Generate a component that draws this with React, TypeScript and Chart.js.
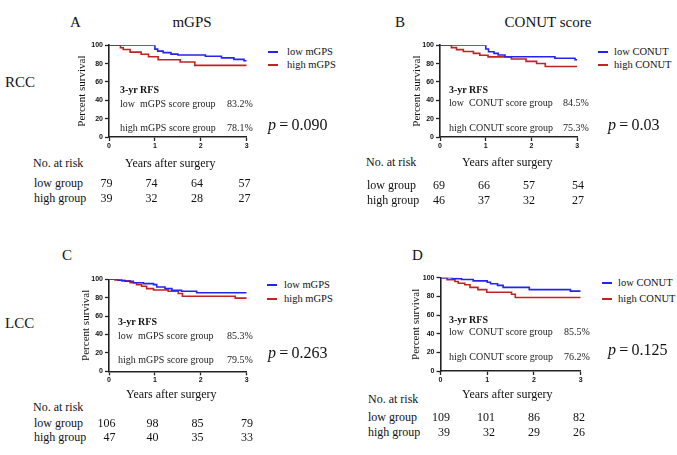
import React, { useEffect, useRef } from "react";
import { Chart, registerables } from "chart.js";

Chart.register(...registerables);

// ---------- data ----------
const yearTicks = [0, 1, 2, 3];

// Panel A (RCC, mGPS)
const aLowT = [0, 1.0, 1.06, 1.18, 1.35, 1.5, 2.1, 2.45, 2.72, 2.94, 3.0];
const aLowV = [100, 95.8, 93.6, 92.0, 90.4, 89.4, 88.1, 86.3, 84.6, 83.2, 83.2];
const aHighT = [0, 0.25, 0.31, 0.46, 0.7, 0.86, 1.07, 1.55, 1.87, 3.0];
const aHighV = [100, 97.4, 95.5, 92.6, 90.3, 87.5, 84.2, 81.8, 78.1, 78.1];

// Panel B (RCC, CONUT)
const bLowT = [0, 1.0, 1.06, 1.18, 1.27, 1.42, 2.51, 2.95, 3.0];
const bLowV = [100, 96.0, 93.0, 91.2, 89.5, 87.5, 85.8, 84.2, 84.2];
const bHighT = [0, 0.25, 0.36, 0.51, 0.73, 0.87, 1.05, 1.56, 1.88, 2.11, 2.3, 3.0];
const bHighV = [100, 97.5, 95.3, 93.2, 91.2, 89.2, 87.4, 85.0, 82.5, 80.2, 76.8, 76.8];

// Panel C (LCC, mGPS)
const cLowT = [0, 0.2, 0.35, 0.53, 0.75, 0.97, 1.04, 1.22, 1.37, 1.58, 1.91, 3.0];
const cLowV = [100, 98.9, 97.8, 96.3, 95.3, 94.2, 91.7, 89.9, 88.1, 87.0, 85.3, 85.3];
const cHighT = [0, 0.13, 0.28, 0.46, 0.6, 0.71, 0.82, 0.97, 1.29, 1.51, 1.6, 2.75, 3.0];
const cHighV = [100, 99.4, 98.3, 96.3, 94.2, 92.4, 89.9, 88.3, 87.0, 84.5, 81.5, 79.5, 79.5];

// Panel D (LCC, CONUT)
const dLowT = [0, 0.25, 0.45, 0.7, 1.0, 1.07, 1.22, 1.34, 1.9, 2.78, 3.0];
const dLowV = [100, 99.0, 98.0, 96.6, 95.2, 93.5, 91.8, 89.6, 87.2, 85.6, 85.6];
const dHighT = [0, 0.14, 0.31, 0.38, 0.52, 0.63, 0.8, 0.99, 1.52, 1.6, 3.0];
const dHighV = [100, 97.8, 95.9, 94.0, 92.4, 89.6, 87.2, 84.4, 82.2, 78.7, 78.7];

// numbers at risk
const aRiskLow = [79, 74, 64, 57];
const aRiskHigh = [39, 32, 28, 27];
const bRiskLow = [69, 66, 57, 54];
const bRiskHigh = [46, 37, 32, 27];
const cRiskLow = [106, 98, 85, 79];
const cRiskHigh = [47, 40, 35, 33];
const dRiskLow = [109, 101, 86, 82];
const dRiskHigh = [39, 32, 29, 26];

// texts
const mgpsLegend = ["low mGPS", "high mGPS"];
const conutLegend = ["low CONUT", "high CONUT"];
const mgpsGroups = ["low  mGPS score group", "high mGPS score group"];
const conutGroups = ["low  CONUT score group", "high CONUT score group"];
const aRfs = ["83.2%", "78.1%"];
const bRfs = ["84.5%", "75.3%"];
const cRfs = ["85.3%", "79.5%"];
const dRfs = ["85.5%", "76.2%"];
const pValues = ["0.090", "0.03", "0.263", "0.125"];

const BLUE = "#2323f2";
const RED = "#c22222";
const SERIF = "'Liberation Serif', 'Times New Roman', serif";
const SANS = "'Liberation Sans', Arial, sans-serif";

type Plot = { l: number; r: number; t: number; b: number };

function KMChart(props: {
  plot: Plot;
  titleX: number;
  lowT: number[];
  lowV: number[];
  highT: number[];
  highV: number[];
  labels: string[];
}) {
  const { plot, titleX, lowT, lowV, highT, highV, labels } = props;
  const ref = useRef<HTMLCanvasElement | null>(null);
  const left = Math.floor(plot.l) - 45;
  const top = Math.floor(plot.t) - 8;
  const width = Math.ceil(plot.r) + 12 - left;
  const height = Math.ceil(plot.b) + 16 - top;
  const axW = plot.l - left;
  const padT = plot.t - top;
  const padR = left + width - plot.r;
  const axH = top + height - plot.b;

  useEffect(() => {
    if (!ref.current) return;
    const tickFont = { family: SANS, size: 7, weight: "bold" as const };
    const chart = new Chart(ref.current, {
      type: "line",
      data: {
        datasets: [
          {
            label: labels[0],
            data: lowT.map((t, i) => ({ x: t, y: lowV[i] })),
            borderColor: BLUE,
            borderWidth: 1.6,
            stepped: true,
            pointRadius: 0,
            fill: false,
          },
          {
            label: labels[1],
            data: highT.map((t, i) => ({ x: t, y: highV[i] })),
            borderColor: RED,
            borderWidth: 1.6,
            stepped: true,
            pointRadius: 0,
            fill: false,
          },
        ],
      },
      options: {
        animation: false,
        responsive: false,
        events: [],
        layout: { padding: { top: padT, right: padR, left: 0, bottom: 0 } },
        plugins: { legend: { display: false }, tooltip: { enabled: false } },
        scales: {
          x: {
            type: "linear",
            min: 0,
            max: 3,
            afterBuildTicks: (s: any) => {
              s.ticks = yearTicks.map((v) => ({ value: v }));
            },
            ticks: { font: tickFont, color: "#111", padding: 1, maxRotation: 0 },
            grid: {
              display: true,
              drawOnChartArea: false,
              drawTicks: true,
              tickLength: 4,
              tickColor: "#222",
              tickWidth: 1.3,
            },
            border: { display: true, color: "#222", width: 1.6 },
            afterFit: (s: any) => {
              s.height = axH;
            },
          },
          y: {
            type: "linear",
            min: 0,
            max: 100,
            ticks: { stepSize: 20, font: tickFont, color: "#111", padding: 2 },
            grid: {
              display: true,
              drawOnChartArea: false,
              drawTicks: true,
              tickLength: 4,
              tickColor: "#222",
              tickWidth: 1.3,
            },
            border: { display: true, color: "#222", width: 1.6 },
            title: {
              display: true,
              text: "Percent survival",
              color: "#111",
              font: { family: SERIF, size: 11, lineHeight: 1.2 },
              padding: { top: titleX - left - 6.6, bottom: 0 },
            },
            afterFit: (s: any) => {
              s.width = axW;
            },
          },
        },
      },
    } as any);
    return () => chart.destroy();
  }, []);

  return (
    <canvas
      ref={ref}
      width={width}
      height={height}
      style={{ position: "absolute", left, top, width, height }}
    />
  );
}

function T(props: {
  x: number;
  y: number;
  size: number;
  children: React.ReactNode;
  align?: "left" | "center" | "right";
  bold?: boolean;
  color?: string;
}) {
  const { x, y, size, children, align = "left", bold, color = "#111" } = props;
  const tx = align === "left" ? "0" : align === "center" ? "-50%" : "-100%";
  return (
    <div
      style={{
        position: "absolute",
        left: x,
        top: y,
        transform: `translate(${tx}, -50%)`,
        fontFamily: SERIF,
        fontSize: size,
        lineHeight: 1,
        whiteSpace: "pre",
        fontWeight: bold ? "bold" : "normal",
        color,
      }}
    >
      {children}
    </div>
  );
}

type PanelCfg = {
  plot: Plot;
  titleX: number;
  letter: string;
  letterX: number;
  letterY: number;
  legend: string[];
  legLineX: number;
  legTextX: number;
  legY: number[];
  groups: string[];
  rfs: string[];
  rfsX: number;
  rfsY: number[];
  pctX: number;
  p: string;
  pX: number;
  pY: number;
  noX: number;
  noY: number;
  yearsX: number;
  yearsY: number;
  rowX: number;
  rowY: number[];
  colRights: number[];
  riskLow: number[];
  riskHigh: number[];
  lowT: number[];
  lowV: number[];
  highT: number[];
  highV: number[];
};

function Panel({ c }: { c: PanelCfg }) {
  return (
    <>
      <KMChart
        plot={c.plot}
        titleX={c.titleX}
        lowT={c.lowT}
        lowV={c.lowV}
        highT={c.highT}
        highV={c.highV}
        labels={c.legend}
      />
      <T x={c.letterX} y={c.letterY} size={15}>
        {c.letter}
      </T>
      {c.legend.map((s, i) => (
        <React.Fragment key={s}>
          <div
            style={{
              position: "absolute",
              left: c.legLineX,
              top: c.legY[i] - 0.8,
              width: 10,
              height: 1.6,
              background: i === 0 ? BLUE : RED,
            }}
          />
          <T x={c.legTextX} y={c.legY[i]} size={10.5}>
            {s}
          </T>
        </React.Fragment>
      ))}
      <T x={c.rfsX} y={c.rfsY[0]} size={10} bold>
        3-yr RFS
      </T>
      <T x={c.rfsX} y={c.rfsY[1]} size={10} color="#222">
        {c.groups[0]}
      </T>
      <T x={c.pctX} y={c.rfsY[1]} size={10} color="#222">
        {c.rfs[0]}
      </T>
      <T x={c.rfsX} y={c.rfsY[2]} size={10} color="#222">
        {c.groups[1]}
      </T>
      <T x={c.pctX} y={c.rfsY[2]} size={10} color="#222">
        {c.rfs[1]}
      </T>
      <T x={c.pX} y={c.pY} size={16}>
        <i>p</i>
        {"\u2009=\u2009" + c.p}
      </T>
      <T x={c.noX} y={c.noY} size={12}>
        No. at risk
      </T>
      <T x={c.yearsX} y={c.yearsY} size={12}>
        Years after surgery
      </T>
      <T x={c.rowX} y={c.rowY[0]} size={12}>
        low group
      </T>
      <T x={c.rowX} y={c.rowY[1]} size={12}>
        high group
      </T>
      {c.riskLow.map((n, i) => (
        <T key={"l" + i} x={c.colRights[i]} y={c.rowY[0]} size={12} align="right">
          {String(n)}
        </T>
      ))}
      {c.riskHigh.map((n, i) => (
        <T key={"h" + i} x={c.colRights[i]} y={c.rowY[1]} size={12} align="right">
          {String(n)}
        </T>
      ))}
    </>
  );
}

const panels: PanelCfg[] = [
  {
    plot: { l: 109, r: 246.7, t: 45.3, b: 137 },
    titleX: 82,
    letter: "A",
    letterX: 70,
    letterY: 22,
    legend: mgpsLegend,
    legLineX: 268,
    legTextX: 287,
    legY: [52, 65],
    groups: mgpsGroups,
    rfs: aRfs,
    rfsX: 120,
    rfsY: [90, 104, 128],
    pctX: 227,
    p: pValues[0],
    pX: 268,
    pY: 125,
    noX: 33,
    noY: 163,
    yearsX: 125,
    yearsY: 163,
    rowX: 34,
    rowY: [183, 198],
    colRights: [112.5, 157.5, 203, 250.5],
    riskLow: aRiskLow,
    riskHigh: aRiskHigh,
    lowT: aLowT,
    lowV: aLowV,
    highT: aHighT,
    highV: aHighV,
  },
  {
    plot: { l: 440, r: 577.3, t: 45.3, b: 137 },
    titleX: 417,
    letter: "B",
    letterX: 395,
    letterY: 22,
    legend: conutLegend,
    legLineX: 598,
    legTextX: 614,
    legY: [52, 65],
    groups: conutGroups,
    rfs: bRfs,
    rfsX: 449,
    rfsY: [90, 103, 127.5],
    pctX: 563,
    p: pValues[1],
    pX: 608,
    pY: 125,
    noX: 366,
    noY: 162,
    yearsX: 462,
    yearsY: 162,
    rowX: 367,
    rowY: [185, 200],
    colRights: [445, 490, 535, 584],
    riskLow: bRiskLow,
    riskHigh: bRiskHigh,
    lowT: bLowT,
    lowV: bLowV,
    highT: bHighT,
    highV: bHighV,
  },
  {
    plot: { l: 109, r: 246.7, t: 279.3, b: 371.3 },
    titleX: 86,
    letter: "C",
    letterX: 62,
    letterY: 255,
    legend: mgpsLegend,
    legLineX: 267,
    legTextX: 284,
    legY: [285, 299],
    groups: mgpsGroups,
    rfs: cRfs,
    rfsX: 118,
    rfsY: [322, 336, 360],
    pctX: 227,
    p: pValues[2],
    pX: 268,
    pY: 353,
    noX: 33,
    noY: 407,
    yearsX: 126,
    yearsY: 394,
    rowX: 34,
    rowY: [423, 437],
    colRights: [115.5, 158.5, 203.5, 253],
    riskLow: cRiskLow,
    riskHigh: cRiskHigh,
    lowT: cLowT,
    lowV: cLowV,
    highT: cHighT,
    highV: cHighV,
  },
  {
    plot: { l: 440.5, r: 580.7, t: 277.7, b: 371 },
    titleX: 416,
    letter: "D",
    letterX: 412,
    letterY: 255,
    legend: conutLegend,
    legLineX: 602,
    legTextX: 618,
    legY: [283, 299],
    groups: conutGroups,
    rfs: dRfs,
    rfsX: 449,
    rfsY: [320, 332, 357],
    pctX: 564,
    p: pValues[3],
    pX: 608,
    pY: 350,
    noX: 368,
    noY: 399,
    yearsX: 462,
    yearsY: 394,
    rowX: 368,
    rowY: [417, 432],
    colRights: [450, 495, 540, 585],
    riskLow: dRiskLow,
    riskHigh: dRiskHigh,
    lowT: dLowT,
    lowV: dLowV,
    highT: dHighT,
    highV: dHighV,
  },
];

export default function App() {
  return (
    <div
      style={{
        position: "absolute",
        left: 0,
        top: 0,
        width: 677,
        height: 455,
        background: "#fff",
        overflow: "hidden",
      }}
    >
      <T x={192} y={22} size={15} align="center">
        mGPS
      </T>
      <T x={548} y={22} size={15} align="center">
        CONUT score
      </T>
      <T x={5} y={82} size={15}>
        RCC
      </T>
      <T x={5} y={323} size={15}>
        LCC
      </T>
      {panels.map((c) => (
        <Panel key={c.letter} c={c} />
      ))}
    </div>
  );
}
